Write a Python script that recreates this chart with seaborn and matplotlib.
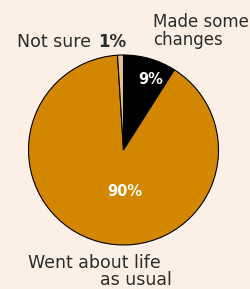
import matplotlib
matplotlib.use("Agg")
import matplotlib.pyplot as plt
import seaborn as sns

# data
labels = ["Made some changes", "Went about life as usual", "Not sure"]
shares = [9, 90, 1]
slice_colors = ["#000000", "#d38600", "#e9c48e"]
inner_labels = ["9%", "90%", ""]

sns.set_theme(style="white")
plt.rcParams['font.family'] = ['DejaVu Sans']
bg = "#fcf0e6"
txt = "#2b2b2b"

fig = plt.figure(figsize=(2.5, 2.89), dpi=100, facecolor=bg)
ax = fig.add_axes([0, 0, 1, 1])
ax.set_facecolor(bg)

wedges, _ = ax.pie(shares, colors=slice_colors, startangle=90, counterclock=False,
                   center=(123.5, 139), radius=95,
                   wedgeprops=dict(edgecolor="black", linewidth=0.8))
# pie resets the limits, so put them back to pixel units
ax.set_xlim(0, 250)
ax.set_ylim(0, 289)
ax.set_aspect("equal")
ax.axis("off")

# percent labels inside
ax.text(151, 289 - 79, inner_labels[0], color="white", fontsize=10.5, fontweight="bold",
        ha="center", va="center")
ax.text(125, 289 - 191, inner_labels[1], color="white", fontsize=10.5, fontweight="bold",
        ha="center", va="center")

# outside labels
ax.text(153, 289 - 27, "Made some", color=txt, fontsize=12, ha="left", va="baseline")
ax.text(153, 289 - 45, "changes", color=txt, fontsize=12, ha="left", va="baseline")
ax.text(17, 289 - 47, "Not sure", color=txt, fontsize=12.5, ha="left", va="baseline")
ax.text(98, 289 - 47, "1%", color=txt, fontsize=12, fontweight="bold", ha="left", va="baseline")
ax.text(28, 289 - 268, "Went about life", color=txt, fontsize=12.5, ha="left", va="baseline")
ax.text(172, 289 - 285, "as usual", color=txt, fontsize=12.5, ha="right", va="baseline")

fig.savefig("out.png", dpi=100, facecolor=bg)
